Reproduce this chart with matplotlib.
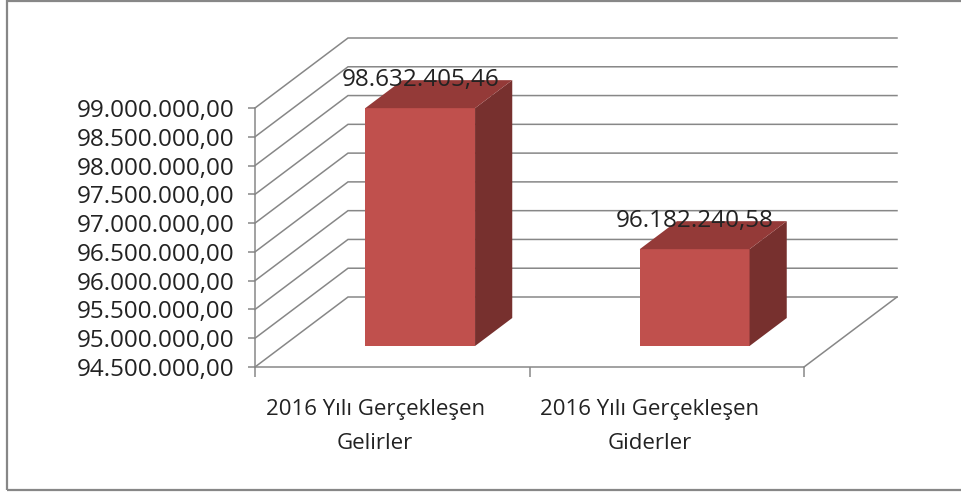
import matplotlib
matplotlib.use('Agg')
import matplotlib.pyplot as plt
from matplotlib.patches import Polygon, Rectangle
from matplotlib.transforms import ScaledTranslation
import numpy as np

categories = ['2016 Yılı Gerçekleşen\nGelirler', '2016 Yılı Gerçekleşen\nGiderler']
values = [98632405.46, 96182240.58]
value_labels = ['98.632.405,46', '96.182.240,58']

y_min, y_max, y_step = 94500000, 99000000, 500000

plt.rcParams['font.family'] = ['Open Sans', 'DejaVu Sans']

W, H, DPI = 962, 493, 100
fig = plt.figure(figsize=(W / DPI, H / DPI), dpi=DPI)
fig.patch.set_facecolor('white')

# plot area in pixels (front plane)
left_px, right_px, bottom_px, top_px = 255, 804, 367, 108
ax = fig.add_axes([left_px / W, 1 - bottom_px / H,
                   (right_px - left_px) / W, (bottom_px - top_px) / H])
ax.set_xlim(0, len(categories))
ax.set_ylim(y_min, y_max)
ax.set_facecolor('none')

# oblique depth vector (pixels) converted to data units
depth_dx_px, depth_dy_px = 93, 70
DX = depth_dx_px / (right_px - left_px) * len(categories)
DY = depth_dy_px / (bottom_px - top_px) * (y_max - y_min)


def proj(x, v, d):
    return x + d * DX, v + d * DY


grid_c = '#878787'
txt_c = '#222222'
fs_num = 17.5
fs_cat = 16
lw = 1.1
ticks = np.arange(y_min, y_max + 1, y_step)

# back wall + side wall gridlines
for v in ticks:
    x0, y0 = proj(0, v, 0)
    x1, y1 = proj(0, v, 1)
    x2, y2 = proj(len(categories), v, 1)
    ax.plot([x0, x1, x2], [y0, y1, y2], color=grid_c, lw=lw, clip_on=False,
            solid_joinstyle='miter', zorder=1)

# floor right edge
xa, ya = proj(len(categories), y_min, 0)
xb, yb = proj(len(categories), y_min, 1)
ax.plot([xa, xb], [ya, yb], color=grid_c, lw=lw, clip_on=False, zorder=1)

# bars
d0, d1 = 0.3, 0.7
bw = 0.4
front_c, top_c, side_c = '#C0504D', '#943A38', '#77302E'
centers = np.arange(len(categories)) + 0.5
heights = np.array(values) - y_min
fx, fy = proj(centers, y_min, d0)
ax.bar(fx, heights, width=bw, bottom=fy, color=front_c, zorder=3, clip_on=False)
for c, v, lab in zip(centers, values, value_labels):
    side = [proj(c + bw / 2, y_min, d0), proj(c + bw / 2, y_min, d1),
            proj(c + bw / 2, v, d1), proj(c + bw / 2, v, d0)]
    top = [proj(c - bw / 2, v, d0), proj(c + bw / 2, v, d0),
           proj(c + bw / 2, v, d1), proj(c - bw / 2, v, d1)]
    ax.add_patch(Polygon(side, closed=True, facecolor=side_c, edgecolor='none',
                         zorder=3, clip_on=False))
    ax.add_patch(Polygon(top, closed=True, facecolor=top_c, edgecolor='none',
                         zorder=3, clip_on=False))
    tx, _ = proj(c, v, d0)
    _, ty = proj(c, v, d1)
    ax.text(tx, ty, lab, ha='center', va='center', fontsize=fs_num,
            color=txt_c, zorder=5, clip_on=False)

# axes
for s in ['top', 'right']:
    ax.spines[s].set_visible(False)
for s in ['left', 'bottom']:
    ax.spines[s].set_color(grid_c)
    ax.spines[s].set_linewidth(lw)
ax.set_yticks(ticks)
ax.set_yticklabels(['{:,.2f}'.format(t).replace(',', 'X').replace('.', ',').replace('X', '.')
                    for t in ticks])
ax.tick_params(axis='y', length=5, width=lw, color=grid_c, pad=10,
               labelsize=fs_num, labelcolor=txt_c)
ax.set_xticks(np.arange(len(categories) + 1))
ax.set_xticklabels([])
ax.tick_params(axis='x', length=7, width=lw, color=grid_c)

shift = ScaledTranslation(-0.17, -0.32, fig.dpi_scale_trans)
for c, cat in zip(centers, categories):
    ax.text(c, y_min, cat, ha='center', va='top', fontsize=fs_cat, color=txt_c,
            linespacing=1.8, transform=ax.transData + shift, clip_on=False)

# chart border
fig.patches.append(Rectangle((7 / W, 1 - 490 / H), 1.2, (489) / H,
                             transform=fig.transFigure, fill=False,
                             edgecolor='#878787', lw=1.6))

fig.savefig('out.png', dpi=DPI, facecolor='white')
